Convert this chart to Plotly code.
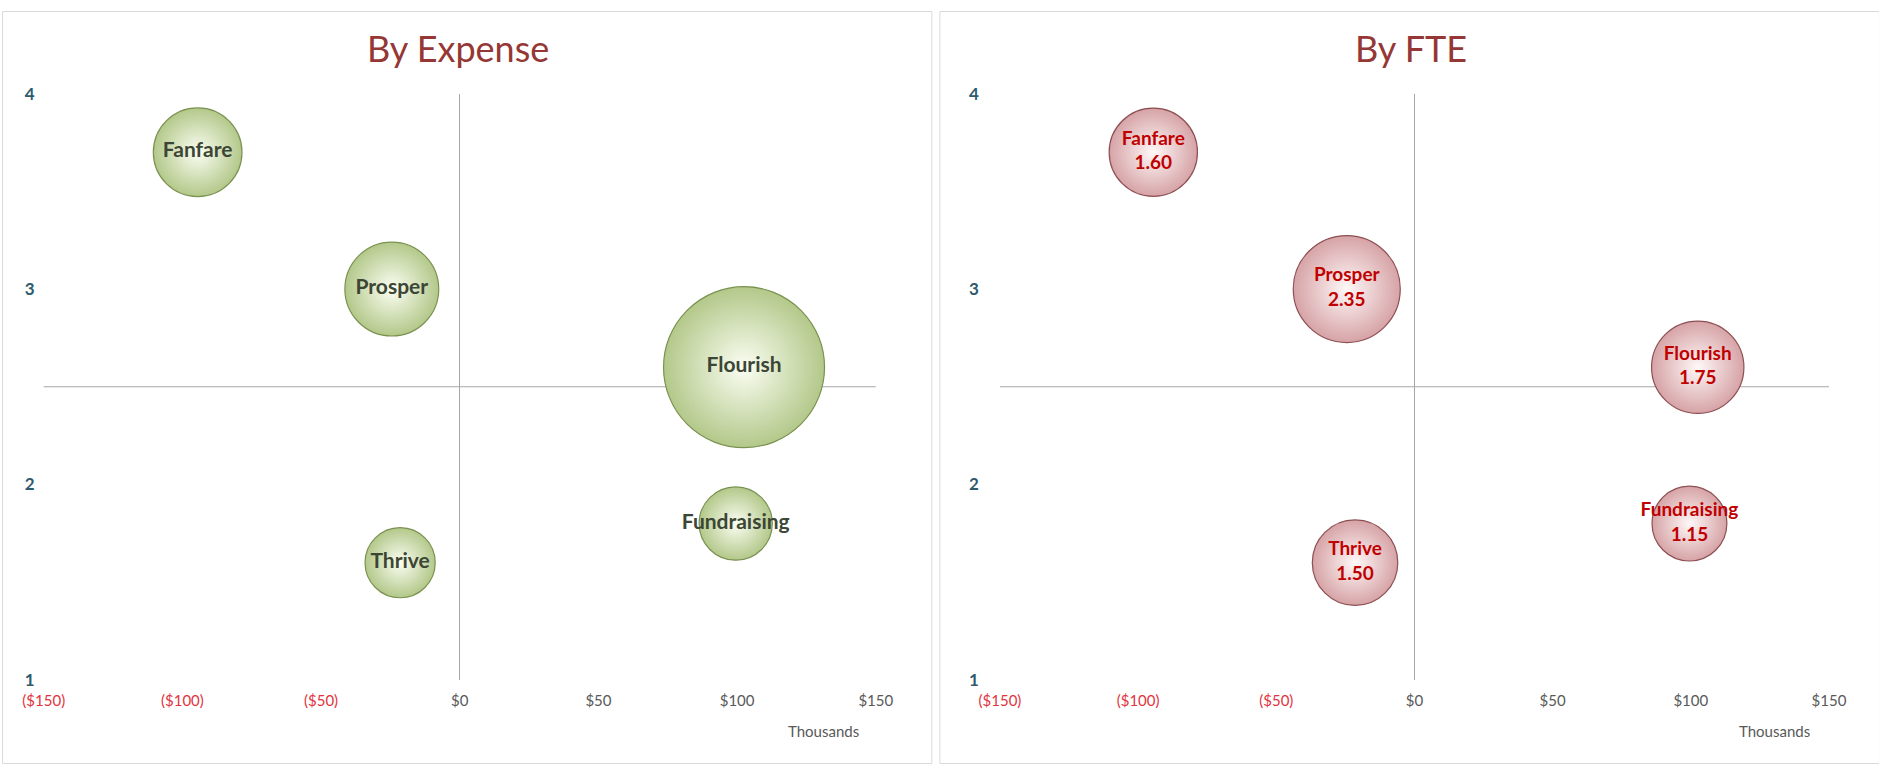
import plotly.graph_objects as go

# ---------------- data ----------------
categories = ["Fanfare", "Prosper", "Flourish", "Fundraising", "Thrive"]
net_thousands = [-94.5, -24.5, 102.5, 99.5, -21.5]   # x values ($ thousands)
score = [3.7, 3.0, 2.6, 1.8, 1.6]                     # y values
expense_size = [91, 102, 300, 62, 57]                 # bubble size, left chart
fte = [1.60, 2.35, 1.75, 1.15, 1.50]                  # bubble size, right chart

x_ticks = [-150, -100, -50, 0, 50, 100, 150]
x_tick_labels = ["($150)", "($100)", "($50)", "$0", "$50", "$100", "$150"]
y_ticks = [1, 2, 3, 4]
y_tick_labels = ["1", "2", "3", "4"]

titles = ["By Expense", "By FTE"]
unit_label = "Thousands"

# ---------------- style / layout ----------------
W, H = 1879, 774
FONT = "Lato"
NEG_COL = "#E2343E"
POS_COL = "#595959"
AXIS_LINE = "#A6A6A6"

# the page photo frames the figure with a small margin; target positions are
# given in picture pixels and mapped back to figure pixels here
OX, SX, OY, SY = 22.3, 0.978, 10.8, 0.974


def fx(p):
    return (p - OX) / SX / W


def fy(p):
    return 1 - (p - OY) / SY / H


colored_ticks = [
    f'<span style="color:{NEG_COL}">{t}</span>' if v < 0 else f'<span style="color:{POS_COL}">{t}</span>'
    for v, t in zip(x_ticks, x_tick_labels)
]

fig = go.Figure()

# left: by expense
fig.add_trace(go.Scatter(
    x=net_thousands, y=score, mode="markers+text",
    text=categories, textposition="middle center",
    textfont=dict(family=FONT, size=21, color="#3C4634", weight="bold"),
    marker=dict(
        size=expense_size, sizemode="area",
        sizeref=2 * max(expense_size) / 161 ** 2,
        color="#B3C88A",
        gradient=dict(type="radial", color="#FBFEF3"),
        line=dict(color="#7A9250", width=1.2),
        opacity=1,
    ),
    cliponaxis=False, hoverinfo="text",
    xaxis="x", yaxis="y",
))

# right: by FTE
fig.add_trace(go.Scatter(
    x=net_thousands, y=score, mode="markers+text",
    text=[f"{c}<br>{v:.2f}" for c, v in zip(categories, fte)],
    textposition="middle center",
    textfont=dict(family=FONT, size=19, color="#C00000", weight="bold"),
    marker=dict(
        size=fte, sizemode="area",
        sizeref=2 * max(fte) / 107 ** 2,
        color="#D6A3A6",
        gradient=dict(type="radial", color="#FFF8F8"),
        line=dict(color="#8E4F53", width=1.2),
        opacity=1,
    ),
    cliponaxis=False, hoverinfo="text",
    xaxis="x2", yaxis="y2",
))

xdom_left = [fx(45), fx(876)]
xdom_right = [fx(1000), fx(1828)]
ydom = [fy(680.5), fy(93.5)]

xaxis_common = dict(
    range=[-150, 150], tickvals=x_ticks, ticktext=colored_ticks,
    showgrid=False, showline=False, ticks="",
    zeroline=True, zerolinecolor=AXIS_LINE, zerolinewidth=1,
    tickfont=dict(family=FONT, size=15, color=POS_COL),
    ticklabelstandoff=10, fixedrange=True,
)
yaxis_common = dict(
    range=[1, 4], tickvals=y_ticks, ticktext=y_tick_labels,
    showgrid=False, showline=False, ticks="", zeroline=False,
    tickfont=dict(family=FONT, size=17, color="#2E5A6E", weight="bold"),
    fixedrange=True,
)

fig.update_layout(
    width=W, height=H,
    margin=dict(l=0, r=0, t=0, b=0),
    paper_bgcolor="white", plot_bgcolor="rgba(0,0,0,0)",
    showlegend=False,
    font=dict(family=FONT),
    xaxis=dict(domain=xdom_left, anchor="y", **xaxis_common),
    yaxis=dict(domain=ydom, anchor="x", ticklabelstandoff=8, **yaxis_common),
    xaxis2=dict(domain=xdom_right, anchor="y2", **xaxis_common),
    yaxis2=dict(domain=ydom, anchor="x2", ticklabelstandoff=20, **yaxis_common),
)

top_edge = 1 - 0.5 / H
bottom_edge = 0.5 / H
shapes = []
# panel borders (outer sides fall at the picture edges)
shapes.append(dict(type="rect", xref="paper", yref="paper",
                   x0=-0.01, x1=fx(932), y0=bottom_edge, y1=top_edge,
                   line=dict(color="#D9D9D9", width=1), layer="below"))
shapes.append(dict(type="rect", xref="paper", yref="paper",
                   x0=fx(940), x1=1.01, y0=bottom_edge, y1=top_edge,
                   line=dict(color="#D9D9D9", width=1), layer="below"))
# horizontal crossing axis at y = 2.5
for xr, yr in [("x domain", "y"), ("x2 domain", "y2")]:
    shapes.append(dict(type="line", xref=xr, yref=yr, x0=0, x1=1, y0=2.5, y1=2.5,
                       line=dict(color=AXIS_LINE, width=1), layer="below"))
fig.update_layout(shapes=shapes)

annotations = []
for t, cx in zip(titles, [459, 1411]):
    annotations.append(dict(text=t, xref="paper", yref="paper",
                            x=fx(cx), y=fy(48), xanchor="center", yanchor="middle",
                            showarrow=False,
                            font=dict(family=FONT, size=36, color="#953735")))
for cx in [824, 1774]:
    annotations.append(dict(text=unit_label, xref="paper", yref="paper",
                            x=fx(cx), y=fy(732), xanchor="center", yanchor="middle",
                            showarrow=False,
                            font=dict(family=FONT, size=15, color=POS_COL)))
fig.update_layout(annotations=annotations)

fig.write_html(
    "out.html",
    config={"displayModeBar": False},
    post_script="document.body.style.margin='0';",
)
